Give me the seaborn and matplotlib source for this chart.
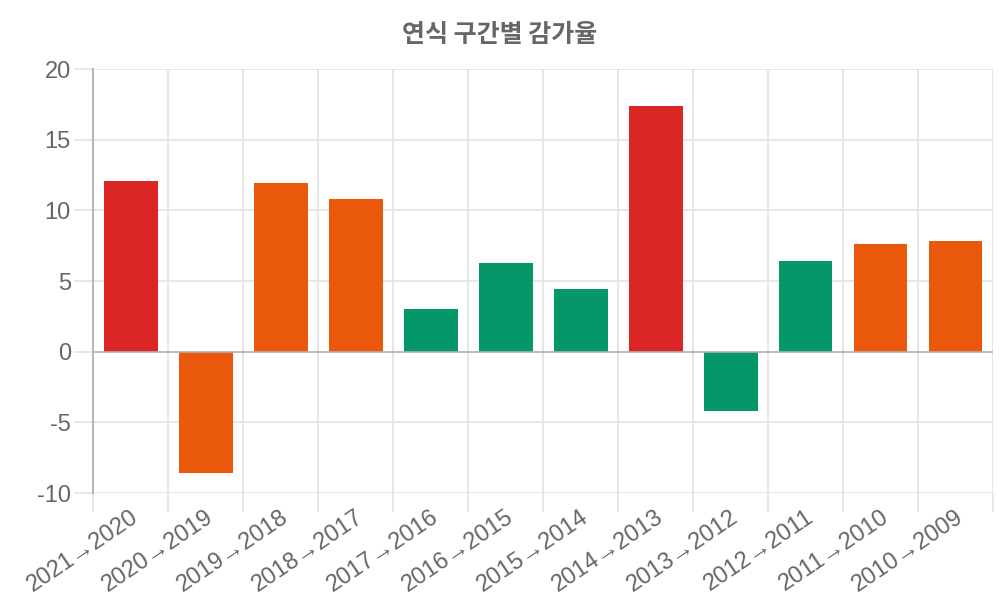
import matplotlib
matplotlib.use("Agg")
import matplotlib.pyplot as plt
import seaborn as sns
import pandas as pd
import numpy as np
from matplotlib.ticker import FixedLocator

categories = ["2021→2020", "2020→2019", "2019→2018", "2018→2017", "2017→2016",
              "2016→2015", "2015→2014", "2014→2013", "2013→2012", "2012→2011",
              "2011→2010", "2010→2009"]
values = [12.1, -8.6, 11.9, 10.8, 3.0, 6.3, 4.4, 17.4, -4.2, 6.4, 7.6, 7.8]
title = "연식 구간별 감가율"
y_ticks = [-10, -5, 0, 5, 10, 15, 20]

def level(v):
    a = abs(v)
    if a >= 12:
        return "high"
    if a >= 7:
        return "mid"
    return "low"

levels = [level(v) for v in values]
palette = {"high": "#DC2626", "mid": "#EA580C", "low": "#059669"}

df = pd.DataFrame({"cat": categories, "val": values, "lvl": levels})

sns.set_theme(style="white")
plt.rcParams['font.family'] = ['Liberation Sans', 'DejaVu Sans']

fig = plt.figure(figsize=(10, 6), dpi=100)
ax = fig.add_axes([0.093, 0.1783, 0.9, 0.7067])

sns.barplot(data=df, x="cat", y="val", hue="lvl", palette=palette, dodge=False,
            width=0.72, legend=False, ax=ax, saturation=1, order=categories,
            edgecolor="none", zorder=3)

ax.set_xlim(-0.5, len(categories) - 0.5)
ax.set_ylim(-10, 20)
ax.set_yticks(y_ticks)
ax.set_yticklabels([str(t) for t in y_ticks])

grid_c = "#e3e3e3"
for t in y_ticks:
    if t == 0:
        continue
    ax.axhline(t, color=grid_c, lw=1.2, zorder=0)
ax.axhline(0, color="#b0b0b0", lw=1.2, zorder=4)
bounds = np.arange(-0.5, len(categories), 1.0)
for b in bounds[1:]:
    ax.axvline(b, color=grid_c, lw=1.2, zorder=0)

ax.xaxis.set_minor_locator(FixedLocator(bounds))
ax.tick_params(axis="x", which="minor", length=14, width=1.2, color=grid_c, bottom=True)
ax.tick_params(axis="x", which="major", length=0, pad=9, labelsize=17, labelcolor="#666666")
ax.tick_params(axis="y", which="major", length=14, width=1.2, color=grid_c, left=True,
               labelsize=17, labelcolor="#666666", pad=2)
plt.setp(ax.get_xticklabels(), rotation=34, ha="right", rotation_mode="anchor")

for s in ["top", "right", "bottom"]:
    ax.spines[s].set_visible(False)
ax.spines["left"].set_color("#a8a8a8")
ax.spines["left"].set_linewidth(1.2)
ax.spines["left"].set_bounds(-10, 20)
ax.set_xlabel("")
ax.set_ylabel("")

fig.text(0.5, 0.942, title, ha="center", va="center", fontsize=18, fontweight="bold",
         color="#666666", family=["Noto Sans CJK KR", "DejaVu Sans"])

fig.savefig("out.png", dpi=100, facecolor="white")
